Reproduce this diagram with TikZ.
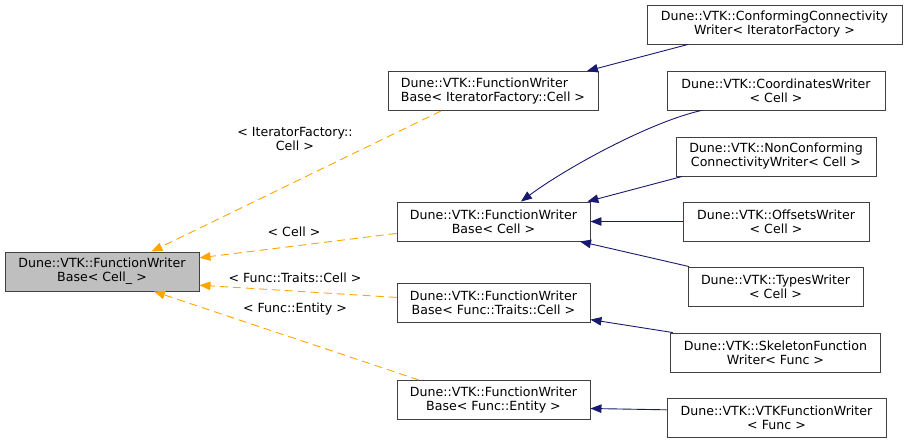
\documentclass[tikz,border=0pt]{standalone}
\usepackage{fontspec}
\setmainfont{DejaVu Sans}
\usetikzlibrary{arrows.meta}

\definecolor{inhblue}{RGB}{25,25,112}
\definecolor{tmplorange}{RGB}{255,165,0}
\definecolor{basegray}{RGB}{191,191,191}
\definecolor{boxline}{RGB}{64,64,64}

\begin{document}
\begin{tikzpicture}[x=1pt,y=-1pt,
            cls/.style={draw=boxline,line width=.9pt,fill=white,align=center,minimum height=39,inner sep=0,font=\fontsize{12.6}{14}\selectfont},
            rootcls/.style={cls,fill=basegray},
            lab/.style={align=center,inner sep=0,font=\fontsize{12.6}{14}\selectfont},
            inh/.style={draw=inhblue,line width=.9pt,->,>={Triangle[length=11pt,width=8.5pt]}},
            tmpl/.style={draw=tmplorange,line width=.9pt,dash pattern=on 8pt off 5pt,->,>={Triangle[length=11pt,width=8.5pt]}}
          ]
          \useasboundingbox (0,0) rectangle (909,444);

          %template base
          \node[rootcls,minimum width=194] (base) at (102,271.5) {Dune::VTK::FunctionWriter\\Base< Cell\_ >};

          %instantiations
          \node[cls,minimum width=210,align=left] (itbase) at (493,91) {Dune::VTK::FunctionWriter\\Base< IteratorFactory::Cell >};
          \node[cls,minimum width=193] (cellbase) at (493.5,221.5) {Dune::VTK::FunctionWriter\\Base< Cell >};
          \node[cls,minimum width=193] (traitsbase) at (493.5,302.5) {Dune::VTK::FunctionWriter\\Base< Func::Traits::Cell >};
          \node[cls,minimum width=193] (entitybase) at (493.5,400) {Dune::VTK::FunctionWriter\\Base< Func::Entity >};

          %derived writers
          \node[cls,minimum width=255] (conforming) at (774.5,24.5) {Dune::VTK::ConformingConnectivity\\Writer< IteratorFactory >};
          \node[cls,minimum width=218] (coords) at (776,90.5) {Dune::VTK::CoordinatesWriter\\< Cell >};
          \node[cls,minimum width=200] (nonconf) at (776,156.5) {Dune::VTK::NonConforming\\ConnectivityWriter< Cell >};
          \node[cls,minimum width=186] (offsets) at (776,221.5) {Dune::VTK::OffsetsWriter\\< Cell >};
          \node[cls,minimum width=175] (types) at (775.5,286.5) {Dune::VTK::TypesWriter\\< Cell >};
          \node[cls,minimum width=210] (skeleton) at (775.5,352.5) {Dune::VTK::SkeletonFunction\\Writer< Func >};
          \node[cls,minimum width=219] (vtkfunc) at (776.5,417.5) {Dune::VTK::VTKFunctionWriter\\< Func >};

          %labels
          \node[lab] (itlab) at (295,139) {< IteratorFactory::\\Cell >};
          \node[lab] (celllab) at (294,232) {< Cell >};
          \node[lab] (traitslab) at (295,278) {< Func::Traits::Cell >};
          \node[lab] (entitylab) at (295,309) {< Func::Entity >};

          %template arguments
          \path
          (itbase.201.8) edge[tmpl] (base.22)
          (cellbase.187.4) edge[tmpl] (base.8.5)
          (traitsbase.177.9) edge[tmpl] (base.352)
          (entitybase.165.7) edge[tmpl] (base.339.6)
          ;

          %inheritance
          \path
          (conforming.193) edge[inh] (itbase.12.5)
          (nonconf.192.8) edge[inh] (cellbase.12.3)
          (offsets.west) edge[inh] (cellbase.east)
          (types.167.2) edge[inh] (cellbase.347.7)
          (skeleton.169.5) edge[inh] (traitsbase.350)
          (vtkfunc.176.6) edge[inh] (entitybase.355.9)
          ;
          \draw[inh] (coords.195.4) .. controls (650,122) and (566,168) .. (cellbase.36.3);

      \end{tikzpicture}
\end{document}
